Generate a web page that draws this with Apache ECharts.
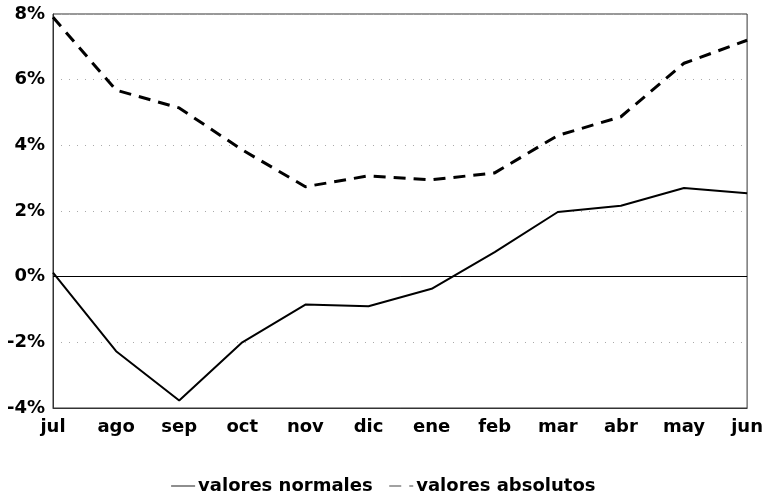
<!DOCTYPE html>
<html>
<head>
<meta charset="utf-8">
<script src="https://cdn.jsdelivr.net/npm/echarts@6/dist/echarts.min.js"></script>
<style>
  html, body { margin: 0; padding: 0; background: #fff; }
  #main { width: 766px; height: 500px; }
</style>
</head>
<body>
<div id="main"></div>
<script>
// meses (jul - jun)
var meses = ['jul', 'ago', 'sep', 'oct', 'nov', 'dic', 'ene', 'feb', 'mar', 'abr', 'may', 'jun'];
var valoresNormales = [0.12, -2.27, -3.77, -2.0, -0.85, -0.9, -0.37, 0.75, 1.97, 2.16, 2.7, 2.54];
var valoresAbsolutos = [7.9, 5.68, 5.14, 3.86, 2.74, 3.07, 2.95, 3.16, 4.3, 4.87, 6.5, 7.2];

var fuente = 'DejaVu Sans';

var chart = echarts.init(document.getElementById('main'));
chart.setOption({
  animation: false,
  backgroundColor: '#fff',
  grid: {
    left: 53, right: 18, top: 14, bottom: 92,
    show: true, borderColor: '#333', borderWidth: 1
  },
  legend: {
    bottom: 0,
    left: 'center',
    itemWidth: 24,
    itemHeight: 14,
    itemGap: 16,
    itemStyle: { color: 'transparent', borderWidth: 0 },
    lineStyle: { color: '#444', width: 1.2 },
    textStyle: { fontFamily: fuente, fontWeight: 'bold', fontSize: 18, color: '#000', padding: [0, 0, 0, -2] },
    data: ['valores normales', 'valores absolutos']
  },
  xAxis: {
    type: 'category',
    data: meses,
    boundaryGap: false,
    axisLine: { onZero: false, lineStyle: { color: '#333', width: 1 } },
    axisTick: { show: false },
    axisLabel: { fontFamily: fuente, fontWeight: 'bold', fontSize: 18, color: '#000', margin: 10 },
    splitLine: { show: false }
  },
  yAxis: {
    type: 'value',
    min: -4, max: 8, interval: 2,
    axisLine: { show: true, lineStyle: { color: '#333', width: 1 } },
    axisTick: { show: false },
    axisLabel: { formatter: '{value}%', fontFamily: fuente, fontWeight: 'bold', fontSize: 18, color: '#000', margin: 8 },
    splitLine: { show: true, lineStyle: { color: '#aaa', type: [1, 7], width: 1 } }
  },
  series: [
    {
      name: 'valores normales',
      type: 'line',
      data: valoresNormales,
      symbol: 'none',
      lineStyle: { color: '#000', width: 2 },
      itemStyle: { color: '#000' },
      markLine: {
        silent: true,
        symbol: 'none',
        label: { show: false },
        lineStyle: { color: '#000', width: 1, type: 'solid' },
        data: [{ yAxis: 0 }]
      }
    },
    {
      name: 'valores absolutos',
      type: 'line',
      data: valoresAbsolutos,
      symbol: 'none',
      lineStyle: { color: '#000', width: 3, type: [12, 8] },
      itemStyle: { color: '#000' }
    }
  ]
});
</script>
</body>
</html>
